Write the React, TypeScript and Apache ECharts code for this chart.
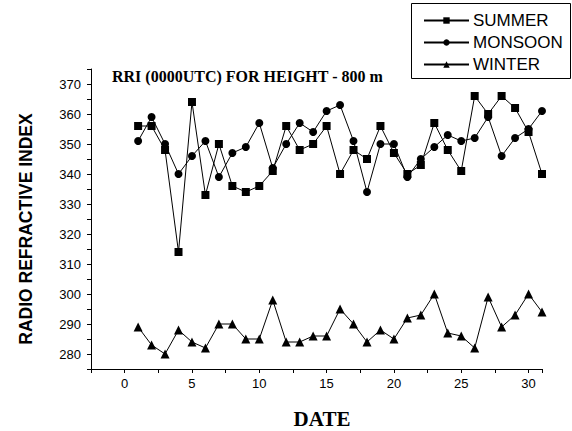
import React, { useEffect, useRef } from "react";
import * as echarts from "echarts";

const days = [1, 2, 3, 4, 5, 6, 7, 8, 9, 10, 11, 12, 13, 14, 15, 16, 17, 18, 19, 20, 21, 22, 23, 24, 25, 26, 27, 28, 29, 30, 31];
const summer = [356, 356, 348, 314, 364, 333, 350, 336, 334, 336, 341, 356, 348, 350, 356, 340, 348, 345, 356, 347, 340, 343, 357, 348, 341, 366, 360, 366, 362, 354, 340];
const monsoon = [351, 359, 350, 340, 346, 351, 339, 347, 349, 357, 342, 350, 357, 354, 361, 363, 351, 334, 350, 350, 339, 345, 349, 353, 351, 352, 359, 346, 352, 355, 361];
const winter = [289, 283, 280, 288, 284, 282, 290, 290, 285, 285, 298, 284, 284, 286, 286, 295, 290, 284, 288, 285, 292, 293, 300, 287, 286, 282, 299, 289, 293, 300, 294];

const seriesNames = ["SUMMER", "MONSOON", "WINTER"];
const title = "RRI (0000UTC) FOR HEIGHT - 800 m";
const xName = "DATE";
const yName = "RADIO REFRACTIVE INDEX";

const SANS = "'Liberation Sans', Arial, sans-serif";
const SERIF = "'Liberation Serif', 'Times New Roman', serif";

export default function App() {
  const ref = useRef<HTMLDivElement>(null);
  useEffect(() => {
    if (!ref.current) return;
    const chart = echarts.init(ref.current, null, { renderer: "svg" });
    const mk = (vals: number[]) => days.map((d, i) => [d, vals[i]]);
    const lineCommon = {
      type: "line",
      lineStyle: { color: "#000", width: 1 },
      itemStyle: { color: "#000" },
      showAllSymbol: true,
    };
    chart.setOption({
      animation: false,
      backgroundColor: "#fff",
      grid: { left: 91, top: 69, width: 451, height: 300, containLabel: false },
      title: {
        text: title,
        left: 112,
        top: 68,
        padding: 0,
        textStyle: { fontFamily: SERIF, fontWeight: "bold", fontSize: 16, color: "#000" },
      },
      legend: {
        data: seriesNames,
        orient: "vertical",
        left: 423,
        top: 12,
        padding: 0,
        itemWidth: 45,
        itemHeight: 8,
        itemGap: 5,
        textStyle: { fontFamily: SANS, fontSize: 17, color: "#000", padding: [0, 0, 0, -1] },
        selectedMode: false,
      },
      xAxis: {
        type: "value",
        min: -2.5,
        max: 31,
        interval: 2.5,
        splitLine: { show: false },
        axisLine: { onZero: false, lineStyle: { color: "#000", width: 1 } },
        axisTick: { inside: false, length: 4, lineStyle: { color: "#000" } },
        axisLabel: {
          margin: 8,
          fontFamily: SANS,
          fontSize: 13,
          color: "#000",
          formatter: (v: number) => (Math.abs(v % 5) < 1e-9 ? String(v) : ""),
        },
      },
      yAxis: {
        type: "value",
        min: 275,
        max: 375,
        interval: 5,
        splitLine: { show: false },
        axisLine: { onZero: false, lineStyle: { color: "#000", width: 1 } },
        axisTick: { inside: false, length: 4, lineStyle: { color: "#000" } },
        axisLabel: {
          margin: 10,
          fontFamily: SANS,
          fontSize: 13,
          color: "#000",
          formatter: (v: number) => (v % 10 === 0 ? String(v) : ""),
        },
      },
      graphic: [
        {
          type: "rect",
          shape: { x: 411.5, y: 3.5, width: 159, height: 75 },
          style: { fill: "none", stroke: "#000", lineWidth: 1 },
          z: 10,
        },
        {
          type: "text",
          x: 26,
          y: 229,
          rotation: Math.PI / 2,
          style: {
            text: yName,
            fontFamily: SANS,
            fontWeight: "bold",
            fontSize: 17.5,
            fill: "#000",
            textAlign: "center",
            textVerticalAlign: "middle",
          },
        },
        {
          type: "text",
          x: 322,
          y: 419,
          style: {
            text: xName,
            fontFamily: SERIF,
            fontWeight: "bold",
            fontSize: 21,
            fill: "#000",
            textAlign: "center",
            textVerticalAlign: "middle",
          },
        },
      ],
      series: [
        { ...lineCommon, name: seriesNames[0], data: mk(summer), symbol: "rect", symbolSize: 8 },
        { ...lineCommon, name: seriesNames[1], data: mk(monsoon), symbol: "circle", symbolSize: 8 },
        { ...lineCommon, name: seriesNames[2], data: mk(winter), symbol: "triangle", symbolSize: 9 },
      ],
    });
    return () => chart.dispose();
  }, []);
  return (
    <div
      ref={ref}
      style={{ position: "fixed", left: 0, top: 0, width: 572, height: 431, background: "#fff" }}
    />
  );
}
